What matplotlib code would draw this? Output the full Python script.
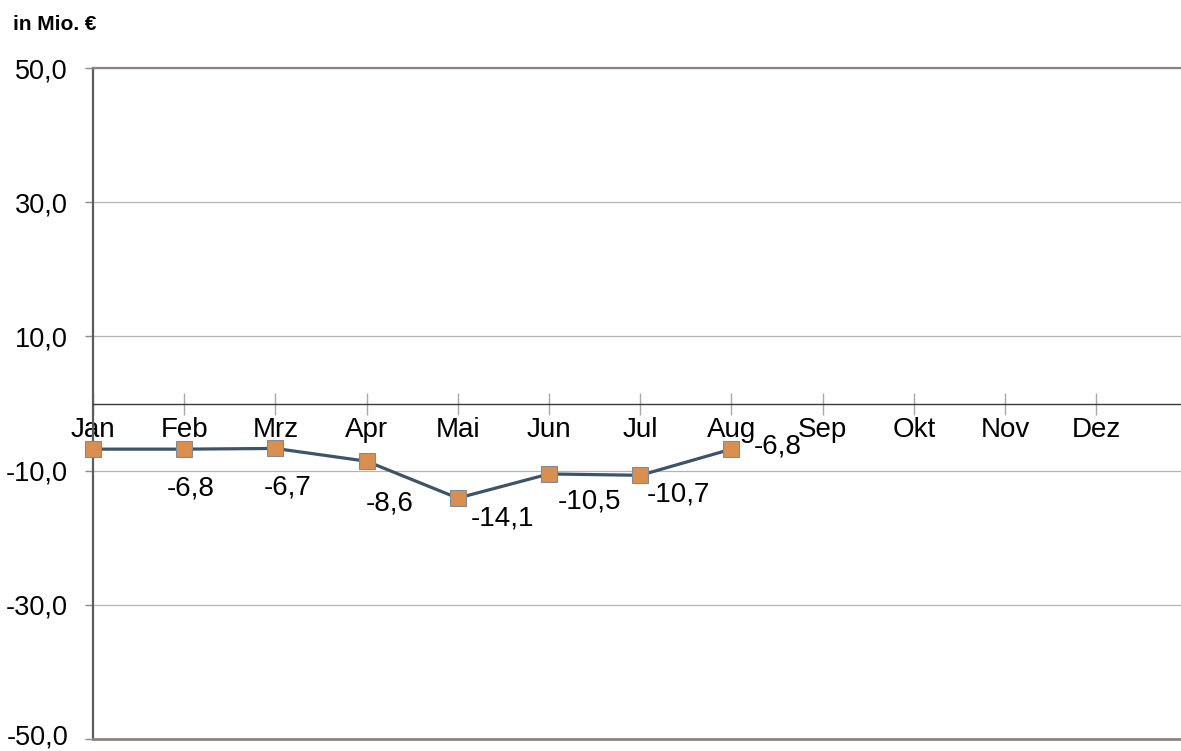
import matplotlib.pyplot as plt
import matplotlib.transforms as mtrans
from matplotlib.ticker import FuncFormatter

plt.rcParams["font.family"] = ["Liberation Sans", "DejaVu Sans"]

# Daten
monate = ["Jan", "Feb", "Mrz", "Apr", "Mai", "Jun", "Jul", "Aug", "Sep", "Okt", "Nov", "Dez"]
werte = [-6.8, -6.8, -6.7, -8.6, -14.1, -10.5, -10.7, -6.8]
y_ticks = [-50, -30, -10, 10, 30, 50]
einheit = "in Mio. €"

# Label-Versatz (Pixel) je Punkt, None = kein Label
label_offset = [None, (6, -39), (12, -39), (23, -42), (45, -20), (41, -28), (38, -19), (46, 3)]

Y_MIN, Y_MAX = -50, 50

fig = plt.figure(figsize=(11.81, 7.51), dpi=100)
ax = fig.add_axes([93 / 1181, 12 / 751, 1 - 93 / 1181, (739 - 68) / 751])

x = list(range(len(werte)))
ax.plot(x, werte, color="#3e5366", lw=2.3, marker="s", ms=12,
        mfc="#d98f50", mec="#7d8c99", mew=0.8, clip_on=False, zorder=5)

# Datenlabels
px = 72 / 100
for i, v in enumerate(werte):
    off = label_offset[i]
    if off is None:
        continue
    ax.annotate(f"{v:.1f}".replace(".", ","), (i, v),
                xytext=(off[0] * px, off[1] * px), textcoords="offset points",
                ha="center", va="center", fontsize=20, zorder=6)

ax.set_xlim(0, 11.93)
ax.set_ylim(Y_MIN, Y_MAX)

# Achsen
ax.spines["right"].set_visible(False)
ax.spines["top"].set_color("#8c8482")
ax.spines["top"].set_linewidth(1.6)
ax.spines["left"].set_color("#5c5c5c")
ax.spines["left"].set_linewidth(1.6)
ax.spines["bottom"].set_position(("data", 0))
ax.spines["bottom"].set_color("#3a3a3a")
ax.spines["bottom"].set_linewidth(1.0)
ax.axhline(Y_MIN, color="#8c8482", lw=2.0, clip_on=False, zorder=3)

ax.set_yticks(y_ticks)
ax.yaxis.set_major_formatter(FuncFormatter(lambda v, p: f"{v:.1f}".replace(".", ",")))
ax.tick_params(axis="y", direction="out", length=6, width=1, color="#8c8c8c",
               labelsize=19.5, pad=12)
ax.grid(axis="y", color="#b4b4b4", lw=0.9)
ax.set_axisbelow(True)
# unterstes Label minimal anheben, damit es nicht am Rand abgeschnitten wird
unten = ax.get_yticklabels()[0]
unten.set_transform(unten.get_transform()
                    + mtrans.ScaledTranslation(0, 4 / 100, fig.dpi_scale_trans))

ax.set_xticks(range(len(monate)))
ax.set_xticklabels(monate)
ax.tick_params(axis="x", direction="inout", length=16, width=1, color="#a8a8a8",
               labelsize=20, pad=2)

fig.text(13 / 1181, 1 - 24 / 751, einheit, fontsize=15, fontweight="bold",
         ha="left", va="center")

fig.savefig("out.png", dpi=100)
